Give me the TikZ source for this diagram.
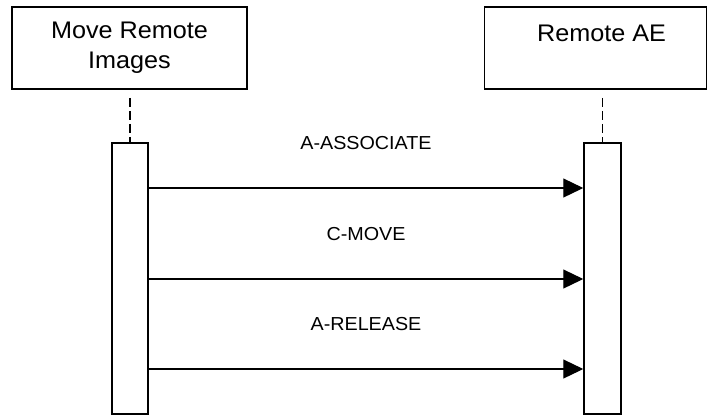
\documentclass[tikz,border=0pt]{standalone}
\usepackage{fontspec}
\usepackage{tikz}
\usetikzlibrary{arrows.meta}
\newfontfamily\dgmfont[FakeStretch=1.05]{Liberation Sans}

\begin{document}
\begin{tikzpicture}[x=1bp,y=-1bp]
      \tikzstyle{actor}=[rectangle,draw,line width=1.5bp,minimum height=82bp,align=center,inner sep=0pt,font=\dgmfont\fontsize{24bp}{30bp}\selectfont]
      \tikzstyle{bar}=[rectangle,draw,line width=1.5bp,minimum width=36bp,minimum height=271bp,inner sep=0pt]
      \tikzstyle{life}=[dash pattern=on 9bp off 4bp,line width=1.2bp]
      \tikzstyle{msg}=[line width=1.2bp,-{Triangle[length=20bp,width=19bp]}]
      \tikzstyle{msglabel}=[font=\dgmfont\fontsize{18.8bp}{20bp}\selectfont,inner sep=0pt]
      \useasboundingbox (0,0) rectangle (708,416);
      \node[actor,minimum width=235bp] (mri) at (129.5,48) {Move Remote\\Images};
      \node[actor,minimum width=222bp] (ae) at (595.5,48) {\hspace*{12bp}Remote AE\\\mbox{}};
      \node[bar] (mribar) at (130,278.5) {};
      \node[bar,minimum width=37bp] (aebar) at (602.5,278.5) {};
      \draw[life,shorten <=8bp] (mri.south -| mribar.north) -- (mribar.north);
      \draw[life,shorten <=8bp] (ae.south -| aebar.north) -- (aebar.north);
      \foreach \y/\msgtext in {188/A-ASSOCIATE,279/C-MOVE,369/A-RELEASE}
        \draw[msg] (mribar.east |- 0,\y) -- node[msglabel,yshift=45bp] {\msgtext} (aebar.west |- 0,\y);
\end{tikzpicture}
\end{document}
